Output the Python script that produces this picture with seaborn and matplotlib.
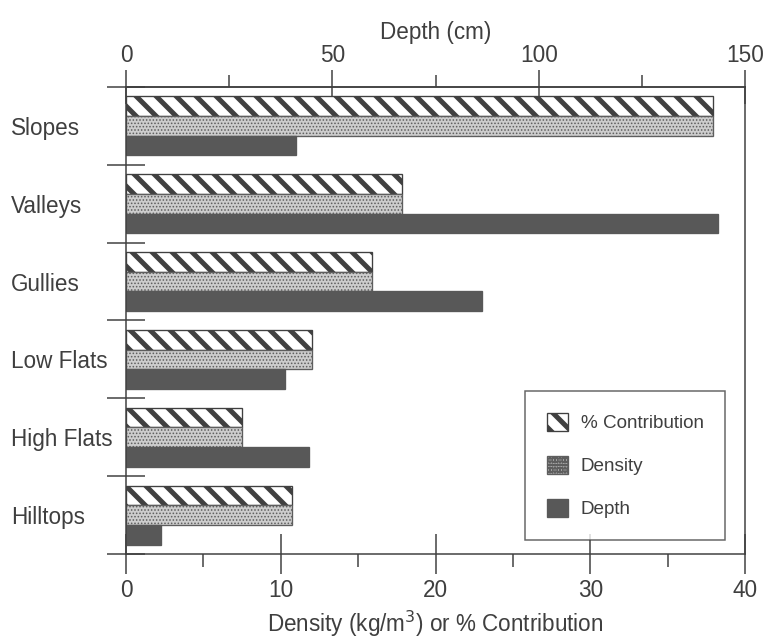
"""
Sediment density, contribution and depth by landscape position.
Horizontal grouped bars: % contribution and density on the bottom axis,
depth (cm) on a secondary top axis.
"""
import pandas as pd
import numpy as np
import matplotlib
matplotlib.use("Agg")
import matplotlib.pyplot as plt
from matplotlib.ticker import FixedLocator
import seaborn as sns

# ---------------------------------------------------------
# data
# ---------------------------------------------------------
zones = ["Slopes", "Valleys", "Gullies", "Low Flats", "High Flats", "Hilltops"]
contribution = [37.9, 17.8, 15.9, 12.0, 7.5, 10.7]   # %
density = [37.9, 17.8, 15.9, 12.0, 7.5, 10.7]        # kg/m3
depth_cm = [41.3, 143.5, 86.2, 38.4, 44.4, 8.5]      # cm (top axis)

series = ["% Contribution", "Density", "Depth"]
bottom_ticks = [0, 10, 20, 30, 40]
top_ticks = [0, 50, 100, 150]

# depth is drawn on the bottom scale and relabelled by the top axis
CM_PER_UNIT = 150 / 40

DPI = 120
INK = "#3f3f3f"
DARK = "#585858"

sns.set_style("ticks")
plt.rcParams["font.family"] = ["Liberation Sans", "DejaVu Sans"]
plt.rcParams["hatch.linewidth"] = 3.0
plt.rcParams["text.color"] = INK
plt.rcParams["axes.labelcolor"] = INK
plt.rcParams["xtick.color"] = INK
plt.rcParams["ytick.color"] = INK

df = pd.DataFrame({
    "zone": zones * 3,
    "series": [s for s in series for _ in zones],
    "value": contribution + density + [d / CM_PER_UNIT for d in depth_cm],
})

fig = plt.figure(figsize=(773 / DPI, 639 / DPI), dpi=DPI)
ax = fig.add_axes([0.163, 0.133, 0.801, 0.731])

sns.barplot(
    data=df, y="zone", x="value", hue="series", order=zones, hue_order=series,
    orient="h", width=0.76, gap=0, errorbar=None, legend=False,
    palette=["white", "white", DARK], saturation=1, ax=ax,
)

styles = [
    dict(facecolor="white", hatch="\\\\", edgecolor="#404040"),
    dict(facecolor="#cdcdcd", hatch="......", edgecolor="#5e5e5e"),
    dict(facecolor=DARK, hatch=None, edgecolor=DARK),
]
for container, st in zip(ax.containers, styles):
    for bar in container:
        bar.set_facecolor(st["facecolor"])
        bar.set_edgecolor(st["edgecolor"])
        bar.set_hatch(st["hatch"])
        bar.set_linewidth(0.8)
        if st["hatch"] == "......" and hasattr(bar, "set_hatch_linewidth"):
            bar.set_hatch_linewidth(0.6)

# ---------------------------------------------------------
# axes styling
# ---------------------------------------------------------
ax.set_xlim(0, 40)
ax.set_xticks(bottom_ticks)
ax.xaxis.set_minor_locator(FixedLocator([5, 15, 25, 35]))
ax.tick_params(axis="x", which="major", direction="inout", length=24, width=0.9,
               labelsize=13.5, pad=3, top=False)
ax.tick_params(axis="x", which="minor", direction="out", length=8, width=0.9, top=False)
ax.set_xlabel("Density (kg/m$^3$) or % Contribution", fontsize=13.5, labelpad=4)

ax.set_ylabel("")
ax.yaxis.set_minor_locator(FixedLocator(np.arange(-0.5, len(zones), 1.0)))
ax.tick_params(axis="y", which="major", length=0, labelsize=13.5, pad=69)
ax.tick_params(axis="y", which="minor", direction="inout", length=23, width=0.9)
for lab in ax.get_yticklabels():
    lab.set_horizontalalignment("left")

for side in ["left", "right", "top", "bottom"]:
    ax.spines[side].set_visible(True)
    ax.spines[side].set_color(INK)
    ax.spines[side].set_linewidth(0.9)

top = ax.secondary_xaxis("top", functions=(lambda u: u * CM_PER_UNIT,
                                           lambda c: c / CM_PER_UNIT))
top.set_xticks(top_ticks)
top.xaxis.set_minor_locator(FixedLocator([25, 75, 125]))
top.tick_params(which="major", direction="inout", length=20, width=0.9,
                labelsize=13.5, pad=2, colors=INK)
top.tick_params(which="minor", direction="out", length=7, width=0.9, colors=INK)
top.spines["top"].set_color(INK)
top.spines["top"].set_linewidth(0.9)
top.set_xlabel("Depth (cm)", fontsize=13.5, labelpad=3, color=INK)

handles = [container[0] for container in ax.containers]
leg = ax.legend(
    handles, series, loc="lower right", bbox_to_anchor=(0.968, 0.03),
    fontsize=11.3, frameon=True, fancybox=False, handlelength=1.1,
    handleheight=1.1, handletextpad=0.7, labelspacing=1.25, borderpad=1.15,
    borderaxespad=0,
)
leg.get_frame().set_edgecolor(INK)
leg.get_frame().set_linewidth(0.9)

fig.savefig("out.png", dpi=DPI, facecolor="white")
